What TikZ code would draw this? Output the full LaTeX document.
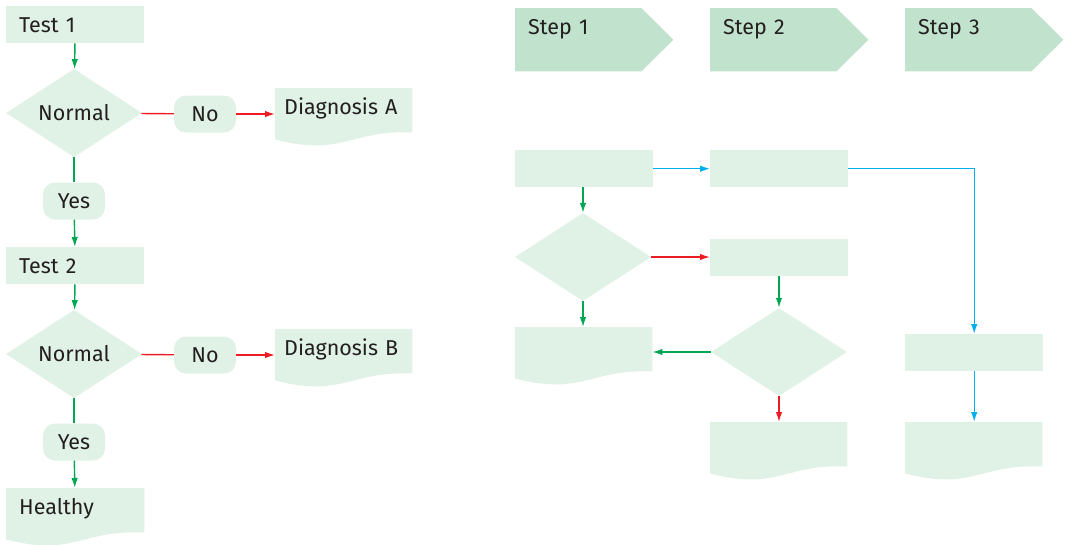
\documentclass[tikz,border=0pt]{standalone}
\usepackage{fontspec}
\setmainfont{Fira Sans}
\usetikzlibrary{shapes.geometric,arrows.meta,calc,backgrounds}

\definecolor{boxfill}{RGB}{224,241,230}
\definecolor{stepfill}{RGB}{193,226,204}
\definecolor{flowgreen}{RGB}{0,166,81}
\definecolor{flowred}{RGB}{237,28,36}
\definecolor{flowblue}{RGB}{0,174,239}
\definecolor{ink}{RGB}{35,31,32}

\tikzset{
  x=1pt, y=-1pt,
  every node/.style={font=\fontsize{21.5}{25}\selectfont, text=ink},
  procbox/.style={fill=boxfill, anchor=north west, inner ysep=0pt, inner xsep=13pt,
    text width=112pt, align=left, text height=26pt, text depth=11pt},
  docbox/.style={anchor=north west, inner ysep=0pt, inner xsep=9pt,
    text width=119pt, align=left, text height=26pt, text depth=18pt},
  decision/.style={diamond, fill=boxfill, inner sep=0pt, minimum width=136pt, minimum height=88pt},
  answer/.style={fill=boxfill, rounded corners=12pt, minimum width=62pt, minimum height=37pt, inner sep=0pt},
  stephead/.style={anchor=north west, inner ysep=0pt, inner xsep=13pt,
    text width=132pt, align=left, text height=26pt, text depth=37pt},
  conn/.style={line width=1.4pt, -{Latex[length=10pt,width=6.5pt]}},
  plain/.style={line width=1.4pt},
}

% document outline with a wavy lower edge, filled behind the node text
\newcommand{\docshape}[1]{%
  \begin{scope}[on background layer]
    \fill[boxfill] (#1.north west) -- (#1.north east) -- (#1.south east)
      -- ($(#1.south west)+(125,0)$)
      .. controls +(-35,0) and +(28,0) .. ($(#1.south west)+(42,13)$)
      .. controls +(-14,0) and +(15,4) .. ($(#1.south west)+(0,7)$) -- cycle;
  \end{scope}}

% arrow-shaped step header
\newcommand{\stepshape}[1]{%
  \begin{scope}[on background layer]
    \fill[stepfill] (#1.north west) -- ($(#1.north east)+(-32,0)$) -- (#1.east)
      -- ($(#1.south east)+(-32,0)$) -- (#1.south west) -- cycle;
  \end{scope}}

\begin{document}
\begin{tikzpicture}
\useasboundingbox (0,0) rectangle (1065,544);

% ---------- left: worked example ----------
\node[procbox] (t1) at (6,6) {Test 1};
\node[decision] (n1) at (74,113) {Normal};
\node[answer] (no1) at (205,114) {No};
\node[docbox] (da) at (275,88) {Diagnosis A};
\docshape{da}
\node[answer] (yes1) at (74,201) {Yes};
\node[procbox] (t2) at (6,247) {Test 2};
\node[decision] (n2) at (74,354) {Normal};
\node[answer] (no2) at (205,355) {No};
\node[docbox] (db) at (275,329) {Diagnosis B};
\docshape{db}
\node[answer] (yes2) at (74,442) {Yes};
\node[docbox, inner xsep=13pt, text width=112pt] (hl) at (6,488) {Healthy};
\docshape{hl}

\draw[conn, flowgreen] (t1) -- (n1);
\draw[plain, flowred] (n1) -- (no1);
\draw[conn, flowred] (no1) -- (da.west |- no1);
\draw[plain, flowgreen] (n1) -- (yes1);
\draw[conn, flowgreen] (yes1) -- (t2);
\draw[conn, flowgreen] (t2) -- (n2);
\draw[plain, flowred] (n2) -- (no2);
\draw[conn, flowred] (no2) -- (db.west |- no2);
\draw[plain, flowgreen] (n2) -- (yes2);
\draw[conn, flowgreen] (yes2) -- (hl);

% ---------- right: template ----------
\node[stephead] (s1) at (515,8) {Step 1};
\stepshape{s1}
\node[stephead] (s2) at (710,8) {Step 2};
\stepshape{s2}
\node[stephead] (s3) at (905,8) {Step 3};
\stepshape{s3}

\node[procbox] (r1) at (515,150) {};
\node[procbox] (r2) at (710,150) {};
\node[decision] (d1) at (583,257) {};
\node[procbox] (r3) at (710,239) {};
\node[decision] (d2) at (779,352) {};
\node[docbox] (c1) at (515,327) {};
\docshape{c1}
\node[procbox] (r6) at (905,334) {};
\node[docbox] (c2) at (710,422) {};
\docshape{c2}
\node[docbox] (c3) at (905,422) {};
\docshape{c3}

\draw[conn, flowblue] (r1) -- (r2);
\draw[conn, flowblue] (r2.east) -| (r6.north);
\draw[conn, flowgreen] (r1.south -| d1.north) -- (d1);
\draw[conn, flowred] (d1) -- (r3.west |- d1);
\draw[conn, flowgreen] (d1) -- (c1.north -| d1);
\draw[conn, flowgreen] (r3.south -| d2.north) -- (d2);
\draw[conn, flowgreen] (d2) -- (c1.east |- d2);
\draw[conn, flowred] (d2) -- (c2.north -| d2);
\draw[conn, flowblue] (r6) -- (c3.north -| r6);
\end{tikzpicture}
\end{document}
